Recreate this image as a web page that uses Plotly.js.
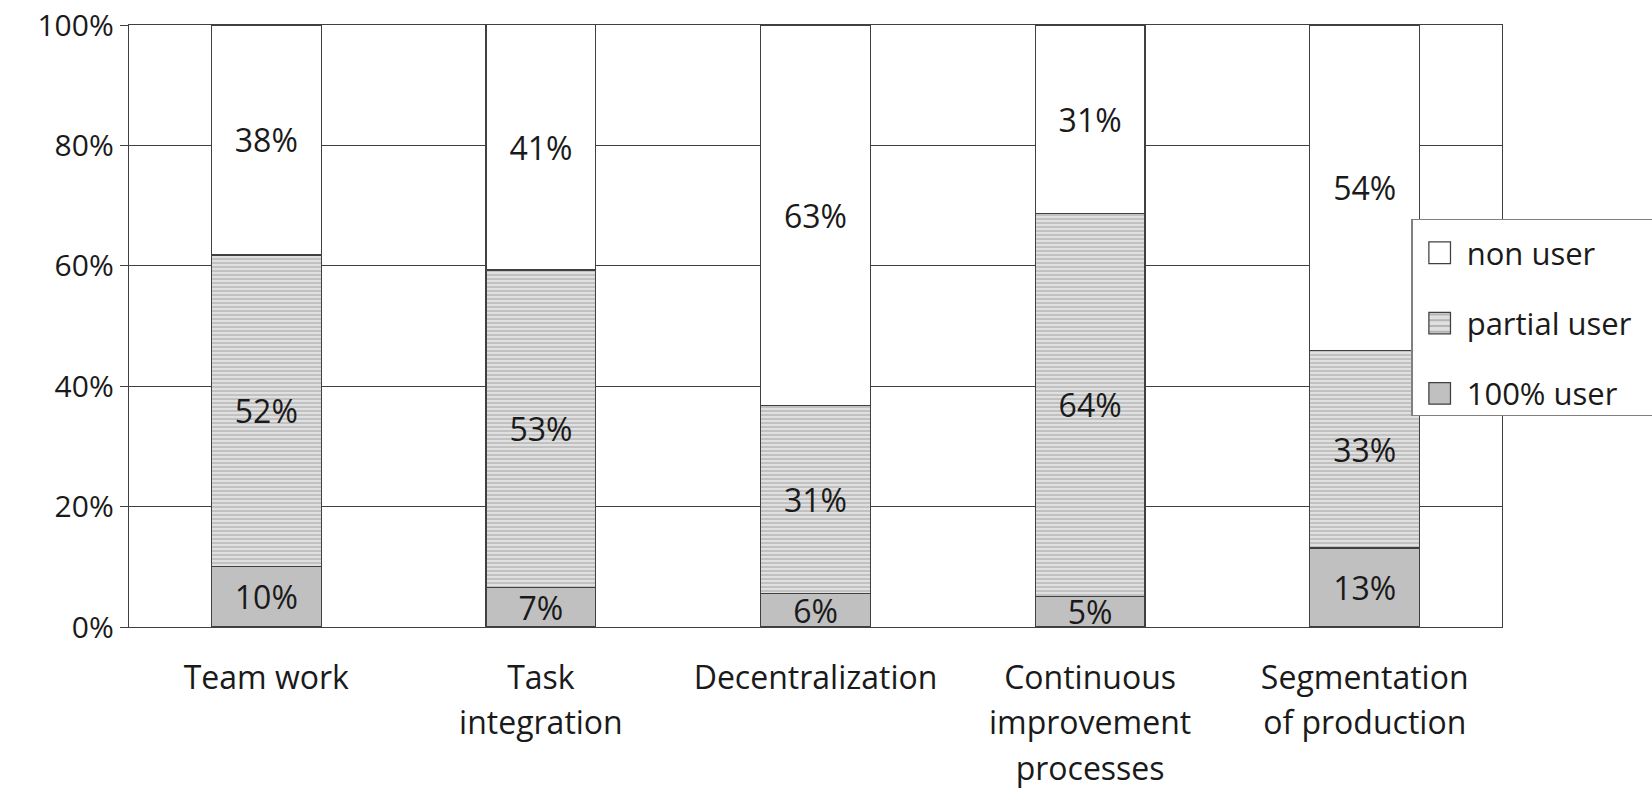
<!DOCTYPE html>
<html>
<head>
<meta charset="utf-8">
<script src="https://cdn.plot.ly/plotly-3.0.1.min.js"></script>
<style>html,body{margin:0;padding:0;background:#fff;}#chart{width:1652px;height:788px;}</style>
</head>
<body>
<div id="chart"></div>
<script>
const categories = ["Team work", "Task<br>integration", "Decentralization", "Continuous<br>improvement<br>processes", "Segmentation<br>of production"];
const fullUser = [10.0, 6.6, 5.6, 5.1, 13.1];
const partialUser = [51.8, 52.7, 31.2, 63.6, 32.8];
const nonUser = [38.2, 40.8, 63.2, 31.3, 54.1];
const tickVals = [0, 20, 40, 60, 80, 100];
const tickText = tickVals.map(v => v + "%");

const FONT = "Open Sans, Noto Sans, sans-serif";
const TXT = "#1a1a1a";
const lineStyle = {color: "#404040", width: 1.3};

const common = {
  type: "bar",
  x: categories,
  texttemplate: "%{y:.0f}%",
  textposition: "inside",
  insidetextanchor: "middle",
  textangle: 0,
  constraintext: "none",
  textfont: {family: FONT, size: 32, color: TXT},
  hoverinfo: "skip"
};

const traces = [
  Object.assign({}, common, {
    name: "100% user", y: fullUser, legendgroup: "c", legendrank: 3,
    marker: {color: "#c0c0c0", line: lineStyle}
  }),
  Object.assign({}, common, {
    name: "partial user", y: partialUser, legendgroup: "b", legendrank: 2,
    marker: {color: "#dcdcdc", line: lineStyle,
      pattern: {shape: "-", fgcolor: "#b4b4b4", bgcolor: "#e0e0e0", size: 4, solidity: 0.35}}
  }),
  Object.assign({}, common, {
    name: "non user", y: nonUser, legendgroup: "a", legendrank: 1,
    marker: {color: "#ffffff", line: lineStyle}
  })
];

const layout = {
  width: 1652, height: 788,
  paper_bgcolor: "#fff", plot_bgcolor: "#fff",
  margin: {l: 129, r: 150, t: 25, b: 161, pad: 0},
  barmode: "stack",
  bargap: 0.6,
  font: {family: FONT, size: 32, color: TXT},
  showlegend: true,
  legend: {
    x: 0.934, xanchor: "left", y: 0.678, yanchor: "top",
    bgcolor: "#fff", bordercolor: "#808080", borderwidth: 1.3,
    font: {family: FONT, size: 31, color: TXT},
    traceorder: "grouped", tracegroupgap: 27,
    itemwidth: 44
  },
  xaxis: {
    type: "category",
    showgrid: false, showline: true, linecolor: "#404040", linewidth: 1.3,
    mirror: true, ticks: "", tickfont: {family: FONT, size: 32, color: TXT},
    ticklabelstandoff: 22
  },
  yaxis: {
    range: [0, 100], tickvals: tickVals, ticktext: tickText,
    showgrid: true, gridcolor: "#404040", gridwidth: 1,
    showline: true, linecolor: "#404040", linewidth: 1.3, mirror: true,
    ticks: "outside", ticklen: 8, tickcolor: "#404040",
    tickfont: {family: FONT, size: 30, color: TXT},
    zeroline: false
  }
};

Plotly.newPlot("chart", traces, layout, {staticPlot: true, displayModeBar: false}).then(gd => {
  // enlarge legend swatches
  gd.querySelectorAll('.legend .legendpoints path').forEach(p => {
    const t = p.getAttribute('transform') || '';
    p.setAttribute('transform', t + ' scale(1.8)');
    p.style.strokeWidth = '0.7px';
  });
  // shift legend entries slightly down inside the box
  gd.querySelectorAll('.legend .groups').forEach(g => {
    const t = g.getAttribute('transform') || '';
    g.setAttribute('transform', t + ' translate(0,6)');
  });
  // legend box runs off the right edge as in the reference
  const bg = gd.querySelector('.legend rect.bg');
  if (bg) bg.setAttribute('width', '400');
  // widen line spacing of multi-line category labels
  gd.querySelectorAll('.xtick text tspan.line').forEach(ts => {
    const dy = parseFloat(ts.getAttribute('dy'));
    if (dy) ts.setAttribute('dy', (dy * 1.42 / 1.3).toFixed(3) + 'em');
  });
});
</script>
</body>
</html>
